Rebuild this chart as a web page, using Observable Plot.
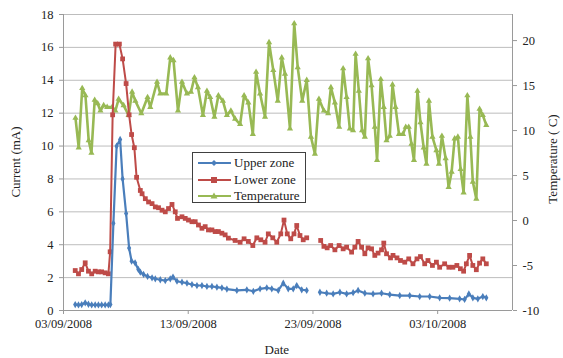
<!DOCTYPE html>
<html><head><meta charset="utf-8">
<script src="https://cdn.jsdelivr.net/npm/d3@7"></script>
<script src="https://cdn.jsdelivr.net/npm/@observablehq/plot@0.6"></script>
<style>
body{margin:0;background:#fff;}
#chart{position:relative;width:563px;height:358px;font-family:"Liberation Serif",serif;color:#222;}
#chart svg{display:block;}
.legend{position:absolute;left:192px;top:152px;width:114px;height:51px;border:1px solid #404040;background:#fff;font-size:13px;box-sizing:border-box;}
.legend .row{position:absolute;left:4px;height:14px;display:flex;align-items:center;white-space:nowrap;}
.legend svg{margin-right:2px;}
.lbl{position:absolute;font-size:13px;white-space:nowrap;}
</style></head><body><div id="chart"></div>
<script>
// ---- data (days since 03/09/2008 00:00) ----
const seriesNames = ["Upper zone", "Lower zone", "Temperature"];
const xTickLabels = ["03/09/2008", "13/09/2008", "23/09/2008", "03/10/2008"];
const currentTicks = [0, 2, 4, 6, 8, 10, 12, 14, 16, 18];
const tempTicks = [-10, -5, 0, 5, 10, 15, 20];
const tempRange = [-10, 22.9];
const currentRange = [0, 18];
const dateRange = ["2008-09-03", "2008-10-09"];

const tempDays = [0.96,1.22,1.50,1.76,2.02,2.24,2.50,2.74,2.96,3.22,3.50,3.90,4.16,4.42,4.82,5.22,5.50,5.76,6.24,6.74,6.96,7.50,7.76,8.24,8.56,8.82,9.18,9.50,9.90,10.22,10.50,10.78,11.18,11.50,11.76,12.10,12.42,12.78,13.10,13.42,13.76,14.16,14.48,14.82,15.18,15.44,15.76,16.16,16.48,16.82,17.18,17.50,17.76,18.16,18.50,18.78,19.14,19.50,19.84,20.16,20.48,20.88,21.22,21.44,21.76,22.10,22.42,22.70,22.96,23.22,23.42,23.68,23.94,24.16,24.42,24.70,24.96,25.14,25.44,25.68,25.90,26.16,26.38,26.62,26.90,27.22,27.44,27.68,27.90,28.10,28.38,28.62,28.88,29.10,29.30,29.58,29.90,30.10,30.34,30.64,30.88,31.12,31.36,31.62,31.84,32.08,32.38,32.62,32.82,33.10,33.36,33.62,33.90];
const tempValues = [11.4,8.1,14.7,13.9,8.9,7.5,13.4,13.0,12.2,12.8,12.6,12.6,12.2,13.5,12.8,11.7,14.3,13.3,11.9,13.7,12.6,15.4,14.1,14.1,18.1,17.8,12.2,15.4,14.1,14.3,15.9,14.8,11.7,14.4,13.7,11.5,13.9,13.3,11.7,12.2,11.3,10.7,13.9,13.1,9.6,16.5,14.1,11.5,19.8,16.7,13.3,18.1,16.3,10.2,21.9,17.0,13.3,15.6,9.3,7.4,13.5,12.2,11.9,14.8,13.1,10.4,16.9,13.7,10.2,10.0,18.5,14.4,10.0,9.3,18.0,15.0,10.4,6.7,15.7,12.6,8.9,9.4,15.1,12.6,9.6,9.6,10.4,10.4,8.5,6.7,14.4,10.9,8.1,6.3,13.3,9.3,7.8,6.3,9.4,6.9,3.7,5.4,9.1,9.3,5.7,3.1,13.9,9.3,4.3,2.4,12.4,11.7,10.6];

const lowerDays = [0.94,1.20,1.46,1.74,2.00,2.26,2.54,2.80,3.06,3.34,3.60,3.74,3.94,4.18,4.48,4.74,5.02,5.26,5.46,5.68,5.86,6.16,6.30,6.56,6.82,7.10,7.36,7.62,7.90,8.16,8.42,8.70,8.96,9.14,9.50,9.76,10.02,10.30,10.56,10.82,11.10,11.36,11.62,11.90,12.16,12.42,12.70,12.96,13.22,13.76,14.16,14.48,14.82,15.18,15.50,15.82,16.16,16.42,16.78,17.10,17.42,17.68,17.94,18.22,18.48,18.70,18.96,19.22,19.50,20.05,20.62,20.88,21.14,21.42,21.76,22.10,22.42,22.70,23.10,23.36,23.62,23.90,24.16,24.42,24.70,24.96,25.22,25.50,25.68,25.90,26.22,26.42,26.74,27.02,27.36,27.68,28.02,28.34,28.62,28.96,29.22,29.58,29.90,30.16,30.56,30.90,31.22,31.54,31.82,32.08,32.30,32.56,32.82,33.10,33.36,33.62,33.90];
const lowerValues = [2.43,2.23,2.49,2.9,2.39,2.23,2.39,2.35,2.35,2.29,2.23,3.57,11.9,16.2,16.2,15.3,13.8,11.9,10.7,9.9,8.1,7.3,7.1,6.8,6.6,6.5,6.3,6.25,6.1,6.0,6.2,6.45,6.0,5.6,5.7,5.6,5.5,5.4,5.4,5.2,5.0,5.1,4.9,4.9,4.8,4.8,4.7,4.6,4.4,4.26,4.15,4.36,4.2,3.95,4.42,4.3,4.15,4.66,4.42,4.15,4.66,5.5,4.66,4.36,4.66,5.17,4.56,4.3,4.42,null,4.26,3.9,3.81,3.95,3.69,3.95,3.75,3.85,3.55,3.85,4.2,3.85,3.45,3.81,3.75,3.35,3.49,3.69,4.1,3.45,3.2,3.35,3.2,3.04,2.94,3.14,2.84,3.14,3.28,2.84,3.04,2.74,2.94,2.63,2.84,2.63,2.63,2.74,2.54,2.39,2.84,3.35,2.74,2.48,2.88,3.14,2.84];

const upperDays = [0.94,1.20,1.46,1.74,2.00,2.26,2.54,2.80,3.06,3.34,3.60,3.76,4.00,4.26,4.54,4.74,5.02,5.26,5.46,5.74,6.00,6.16,6.42,6.74,7.10,7.36,7.76,8.16,8.56,8.78,9.10,9.50,9.90,10.30,10.70,11.10,11.50,11.90,12.30,12.70,13.10,13.90,14.70,15.22,15.76,16.30,16.70,17.22,17.62,18.02,18.42,18.70,19.10,19.50,20.05,20.56,21.10,21.62,22.16,22.70,23.22,23.62,24.16,24.82,25.50,26.16,26.96,27.76,28.56,29.36,30.16,30.96,31.76,32.16,32.50,32.82,33.22,33.62,33.90];
const upperValues = [0.36,0.34,0.36,0.47,0.38,0.34,0.34,0.34,0.34,0.34,0.34,0.36,5.3,10.0,10.4,8.0,5.9,3.8,3.0,2.9,2.5,2.33,2.19,2.07,1.99,1.93,1.87,1.82,1.93,2.03,1.78,1.72,1.66,1.58,1.52,1.52,1.46,1.46,1.42,1.38,1.30,1.22,1.26,1.17,1.32,1.38,1.32,1.22,1.66,1.32,1.32,1.52,1.26,1.22,null,1.11,1.05,1.01,1.11,1.01,1.08,1.22,1.05,1.01,1.05,0.97,0.91,0.91,0.85,0.85,0.77,0.75,0.71,0.67,1.01,0.77,0.71,0.85,0.77];

const colors = {"Upper zone": "#4a7ebb", "Lower zone": "#be4b48", "Temperature": "#98b954"};

// ---- helpers ----
const t0 = Date.parse("2008-09-03T00:00:00Z");
const toDate = d => new Date(t0 + d * 864e5);
// secondary (temperature) axis mapped onto the primary current scale
const tempToCurrent = t => (t - tempRange[0]) / (tempRange[1] - tempRange[0]) * (currentRange[1] - currentRange[0]) + currentRange[0];
const currentToTemp = c => (c - currentRange[0]) / (currentRange[1] - currentRange[0]) * (tempRange[1] - tempRange[0]) + tempRange[0];
const mk = (days, vals, f = v => v) => days.map((d, i) => ({date: toDate(d), v: vals[i] == null ? NaN : f(vals[i])}));

const upper = mk(upperDays, upperValues);
const lower = mk(lowerDays, lowerValues);
const temp = mk(tempDays, tempValues, tempToCurrent);
const parseTick = d3.utcParse("%d/%m/%Y");
const xTicks = xTickLabels.map(parseTick);
const xDomain = dateRange.map(s => new Date(s + "T00:00:00Z"));

const plot = Plot.plot({
  width: 563, height: 358,
  marginLeft: 63, marginRight: 51, marginTop: 14, marginBottom: 48,
  style: {fontFamily: "'Liberation Serif', serif", fontSize: "12.5px", background: "#fff", color: "#222"},
  x: {type: "utc", domain: xDomain},
  y: {domain: currentRange},
  marks: [
    Plot.ruleY(currentTicks.slice(1), {stroke: "#bdbdbd", strokeWidth: 1}),
    Plot.ruleY([0], {stroke: "#9a9a9a"}),
    Plot.ruleX([xDomain[0], xDomain[1]], {stroke: "#9a9a9a"}),
    Plot.axisY({anchor: "left", ticks: currentTicks, tickSize: 4, tickPadding: 6, stroke: "#9a9a9a", color: "#222", label: null}),
    Plot.axisY({anchor: "right", ticks: tempTicks.map(tempToCurrent), tickFormat: v => String(Math.round(currentToTemp(v))), tickSize: 4, tickPadding: 6, stroke: "#9a9a9a", color: "#222", label: null}),
    Plot.axisX({ticks: xTicks, tickFormat: d3.utcFormat("%d/%m/%Y"), tickSize: 4, tickPadding: 5, stroke: "#9a9a9a", color: "#222", label: null}),
    Plot.line(temp, {x: "date", y: "v", stroke: colors["Temperature"], strokeWidth: 2.6}),
    Plot.dot(temp, {x: "date", y: "v", symbol: "triangle", r: 2.3, fill: colors["Temperature"]}),
    Plot.line(lower, {x: "date", y: "v", stroke: colors["Lower zone"], strokeWidth: 2}),
    Plot.dot(lower, {x: "date", y: "v", symbol: "square", r: 2.7, fill: colors["Lower zone"]}),
    Plot.line(upper, {x: "date", y: "v", stroke: colors["Upper zone"], strokeWidth: 2.2}),
    Plot.dot(upper, {x: "date", y: "v", symbol: "diamond", r: 2.2, fill: colors["Upper zone"]})
  ]
});

const chart = document.getElementById("chart");
chart.appendChild(plot);

// axis titles
function addLabel(text, x, y, rot) {
  const el = document.createElement("div");
  el.className = "lbl";
  el.textContent = text;
  chart.appendChild(el);
  const w = el.offsetWidth, h = el.offsetHeight;
  el.style.left = (x - w / 2) + "px";
  el.style.top = (y - h / 2) + "px";
  if (rot) el.style.transform = "rotate(" + rot + "deg)";
}
addLabel("Current (mA)", 15, 162, -90);
addLabel("Temperature ( C)", 552, 159, -90);
addLabel("Date", 277, 350, 0);

// legend
const legend = document.createElement("div");
legend.className = "legend";
const symbols = {
  "Upper zone": c => `<path d="M17 3 L20 6 L17 9 L14 6 Z" fill="${c}"/>`,
  "Lower zone": c => `<rect x="14" y="3" width="6" height="6" fill="${c}"/>`,
  "Temperature": c => `<path d="M17 2.5 L20.5 8.5 L13.5 8.5 Z" fill="${c}"/>`
};
seriesNames.forEach((name, i) => {
  const row = document.createElement("div");
  row.className = "row";
  row.style.top = (3 + i * 16.5) + "px";
  const c = colors[name];
  row.innerHTML = `<svg width="35" height="12"><line x1="1" y1="6" x2="34" y2="6" stroke="${c}" stroke-width="2.2"/>${symbols[name](c)}</svg><span>${name}</span>`;
  legend.appendChild(row);
});
chart.appendChild(legend);
</script>
</body></html>
